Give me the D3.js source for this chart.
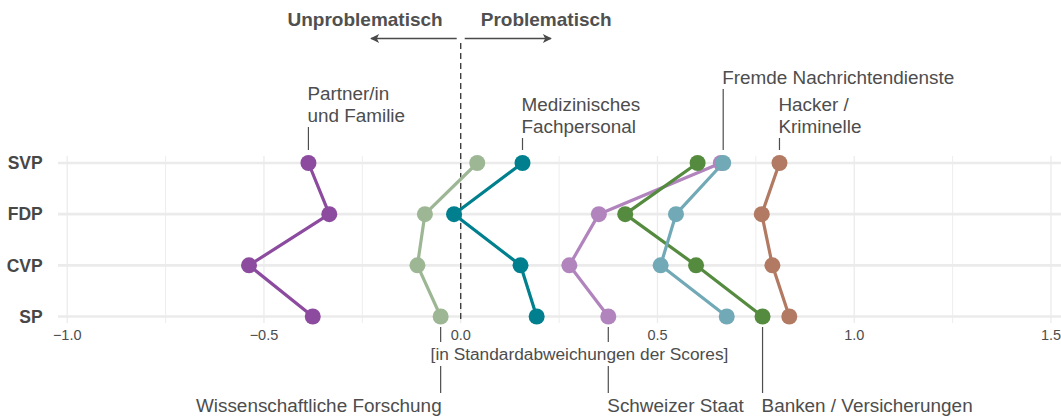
<!DOCTYPE html>
<html>
<head>
<meta charset="utf-8">
<script src="https://cdn.jsdelivr.net/npm/d3@7"></script>
<style>
  body { margin: 0; background: #fff; }
  text { font-family: "Liberation Sans", Arial, sans-serif; }
</style>
</head>
<body>
<div id="chart"></div>
<script>
// parties (y axis, top to bottom)
const parties = ["SVP", "FDP", "CVP", "SP"];

// actors, in drawing order
const actors = [
  "Partner/in und Familie",
  "Wissenschaftliche Forschung",
  "Medizinisches Fachpersonal",
  "Schweizer Staat",
  "Banken / Versicherungen",
  "Fremde Nachrichtendienste",
  "Hacker / Kriminelle"
];
const colors = ["#8c4b9f", "#9db795", "#00808e", "#b184bd", "#548b3f", "#71a9b6", "#b27a62"];

// scores per actor, in the order SVP, FDP, CVP, SP
const partnerVals   = [-0.387, -0.334, -0.538, -0.376];
const forschungVals = [ 0.042, -0.091, -0.110, -0.051];
const medizinVals   = [ 0.157, -0.017,  0.152,  0.193];
const staatVals     = [ 0.661,  0.351,  0.276,  0.375];
const bankenVals    = [ 0.602,  0.418,  0.598,  0.767];
const fremdeVals    = [ 0.667,  0.547,  0.508,  0.676];
const hackerVals    = [ 0.810,  0.765,  0.792,  0.835];
const allVals = [partnerVals, forschungVals, medizinVals, staatVals, bankenVals, fremdeVals, hackerVals];

const xTicks = [-1.0, -0.5, 0.0, 0.5, 1.0, 1.5];
const xMinor = [-0.75, -0.25, 0.25, 0.75, 1.25];

// label text lines per actor
const labelLines = [
  ["Partner/in", "und Familie"],
  ["Wissenschaftliche Forschung"],
  ["Medizinisches", "Fachpersonal"],
  ["Schweizer Staat"],
  ["Banken / Versicherungen"],
  ["Fremde Nachrichtendienste"],
  ["Hacker /", "Kriminelle"]
];

const W = 1061, H = 416;
const svg = d3.select("#chart").append("svg")
  .attr("width", W).attr("height", H);

const x = d3.scaleLinear().domain([-1, 1.5]).range([67.2, 1051]);
const y = d3.scalePoint().domain(parties).range([163, 316.5]);

const panelLeft = 58, panelTop = 156, panelBottom = 323;
const textCol = "#4d4d4d";
const labelSize = 18.9;

// grid
const grid = svg.append("g");
grid.selectAll(".minor").data(xMinor).join("line")
  .attr("x1", d => x(d)).attr("x2", d => x(d))
  .attr("y1", panelTop).attr("y2", panelBottom)
  .attr("stroke", "#ededed").attr("stroke-width", 1);
grid.selectAll(".major").data(xTicks).join("line")
  .attr("x1", d => x(d)).attr("x2", d => x(d))
  .attr("y1", panelTop).attr("y2", panelBottom)
  .attr("stroke", "#ebebeb").attr("stroke-width", 1.3);
grid.selectAll(".hline").data(parties).join("line")
  .attr("x1", panelLeft).attr("x2", W)
  .attr("y1", d => y(d)).attr("y2", d => y(d))
  .attr("stroke", "#ebebeb").attr("stroke-width", 2.6);

// zero line
svg.append("line")
  .attr("x1", x(0)).attr("x2", x(0))
  .attr("y1", 43).attr("y2", panelBottom)
  .attr("stroke", "#333").attr("stroke-width", 1.3)
  .attr("stroke-dasharray", "6,4");

// header with arrows
const defs = svg.append("defs");
defs.append("marker")
  .attr("id", "arr").attr("viewBox", "0 0 10 10")
  .attr("refX", 9).attr("refY", 5)
  .attr("markerWidth", 10).attr("markerHeight", 9)
  .attr("markerUnits", "userSpaceOnUse")
  .attr("orient", "auto")
  .append("path").attr("d", "M0,0 L10,5 L0,10 L2.5,5 Z").attr("fill", "#4a4a4a");

[[x(0) - 4, 371], [x(0) + 4, 551]].forEach(([a, b]) => {
  svg.append("line")
    .attr("x1", a).attr("x2", b).attr("y1", 38.5).attr("y2", 38.5)
    .attr("stroke", "#4a4a4a").attr("stroke-width", 1.7)
    .attr("marker-end", "url(#arr)");
});
svg.append("text").attr("x", x(0) - 18).attr("y", 26)
  .attr("text-anchor", "end").attr("font-weight", "bold")
  .attr("font-size", 19).attr("fill", "#505050").text("Unproblematisch");
svg.append("text").attr("x", x(0) + 20).attr("y", 26)
  .attr("text-anchor", "start").attr("font-weight", "bold")
  .attr("font-size", 19).attr("fill", "#505050").text("Problematisch");

// y labels
svg.selectAll(".ylab").data(parties).join("text")
  .attr("x", 42.7).attr("y", d => y(d) + 6.3)
  .attr("text-anchor", "end").attr("font-weight", "bold")
  .attr("font-size", 17.5).attr("fill", "#474747")
  .text(d => d);

// x tick labels
svg.selectAll(".xlab").data(xTicks).join("text")
  .attr("x", d => x(d)).attr("y", 340.3)
  .attr("text-anchor", "middle").attr("font-size", 14.5).attr("fill", textCol)
  .text(d => d3.format(".1f")(d).replace("-", "\u2212"));

// label connectors and texts
// top labels: anchored at SVP, bottom labels at SP
const labelSide = ["top", "bottom", "top", "bottom", "bottom", "top", "top"];
const labelTopY = [127, 0, 138, 0, 0, 89, 138];
const connectors = svg.append("g");
const labels = svg.append("g");
actors.forEach((name, i) => {
  const lines = labelLines[i];
  if (labelSide[i] === "top") {
    const xv = x(allVals[i][0]);
    connectors.append("line")
      .attr("x1", xv).attr("x2", xv).attr("y1", labelTopY[i]).attr("y2", 150)
      .attr("stroke", textCol).attr("stroke-width", 1.2);
    lines.forEach((ln, j) => {
      labels.append("text")
        .attr("x", xv - 1)
        .attr("y", labelTopY[i] - 5.5 - (lines.length - 1 - j) * 21.7)
        .attr("font-size", labelSize).attr("fill", textCol).text(ln);
    });
  } else {
    const xv = x(allVals[i][3]);
    connectors.append("line")
      .attr("x1", xv).attr("x2", xv).attr("y1", 327).attr("y2", 393)
      .attr("stroke", textCol).attr("stroke-width", 1.2);
    labels.append("text")
      .attr("x", i === 1 ? xv + 1 : xv - 1).attr("y", 411.5)
      .attr("text-anchor", i === 1 ? "end" : "start")
      .attr("font-size", labelSize).attr("fill", textCol).text(lines[0]);
  }
});

// axis title with white background, breaking the connectors
const titleG = svg.append("g");
const titleBg = titleG.append("rect").attr("fill", "#fff");
const title = titleG.append("text")
  .attr("x", 579.5).attr("y", 359.5)
  .attr("text-anchor", "middle").attr("font-size", 17.3).attr("fill", textCol)
  .text("[in Standardabweichungen der Scores]");
const bb = title.node().getBBox();
titleBg.attr("x", bb.x - 2).attr("y", 342).attr("width", bb.width + 4).attr("height", 24);

// series lines and points
const line = d3.line().x(d => x(d.v)).y(d => y(d.p));
actors.forEach((name, i) => {
  const pts = parties.map((p, k) => ({ p: p, v: allVals[i][k] }));
  const g = svg.append("g");
  g.append("path").datum(pts)
    .attr("d", line).attr("fill", "none")
    .attr("stroke", colors[i]).attr("stroke-width", 3.2)
    .attr("stroke-linejoin", "round");
  g.selectAll("circle").data(pts).join("circle")
    .attr("cx", d => x(d.v)).attr("cy", d => y(d.p))
    .attr("r", 8).attr("fill", colors[i]);
});
</script>
</body>
</html>
